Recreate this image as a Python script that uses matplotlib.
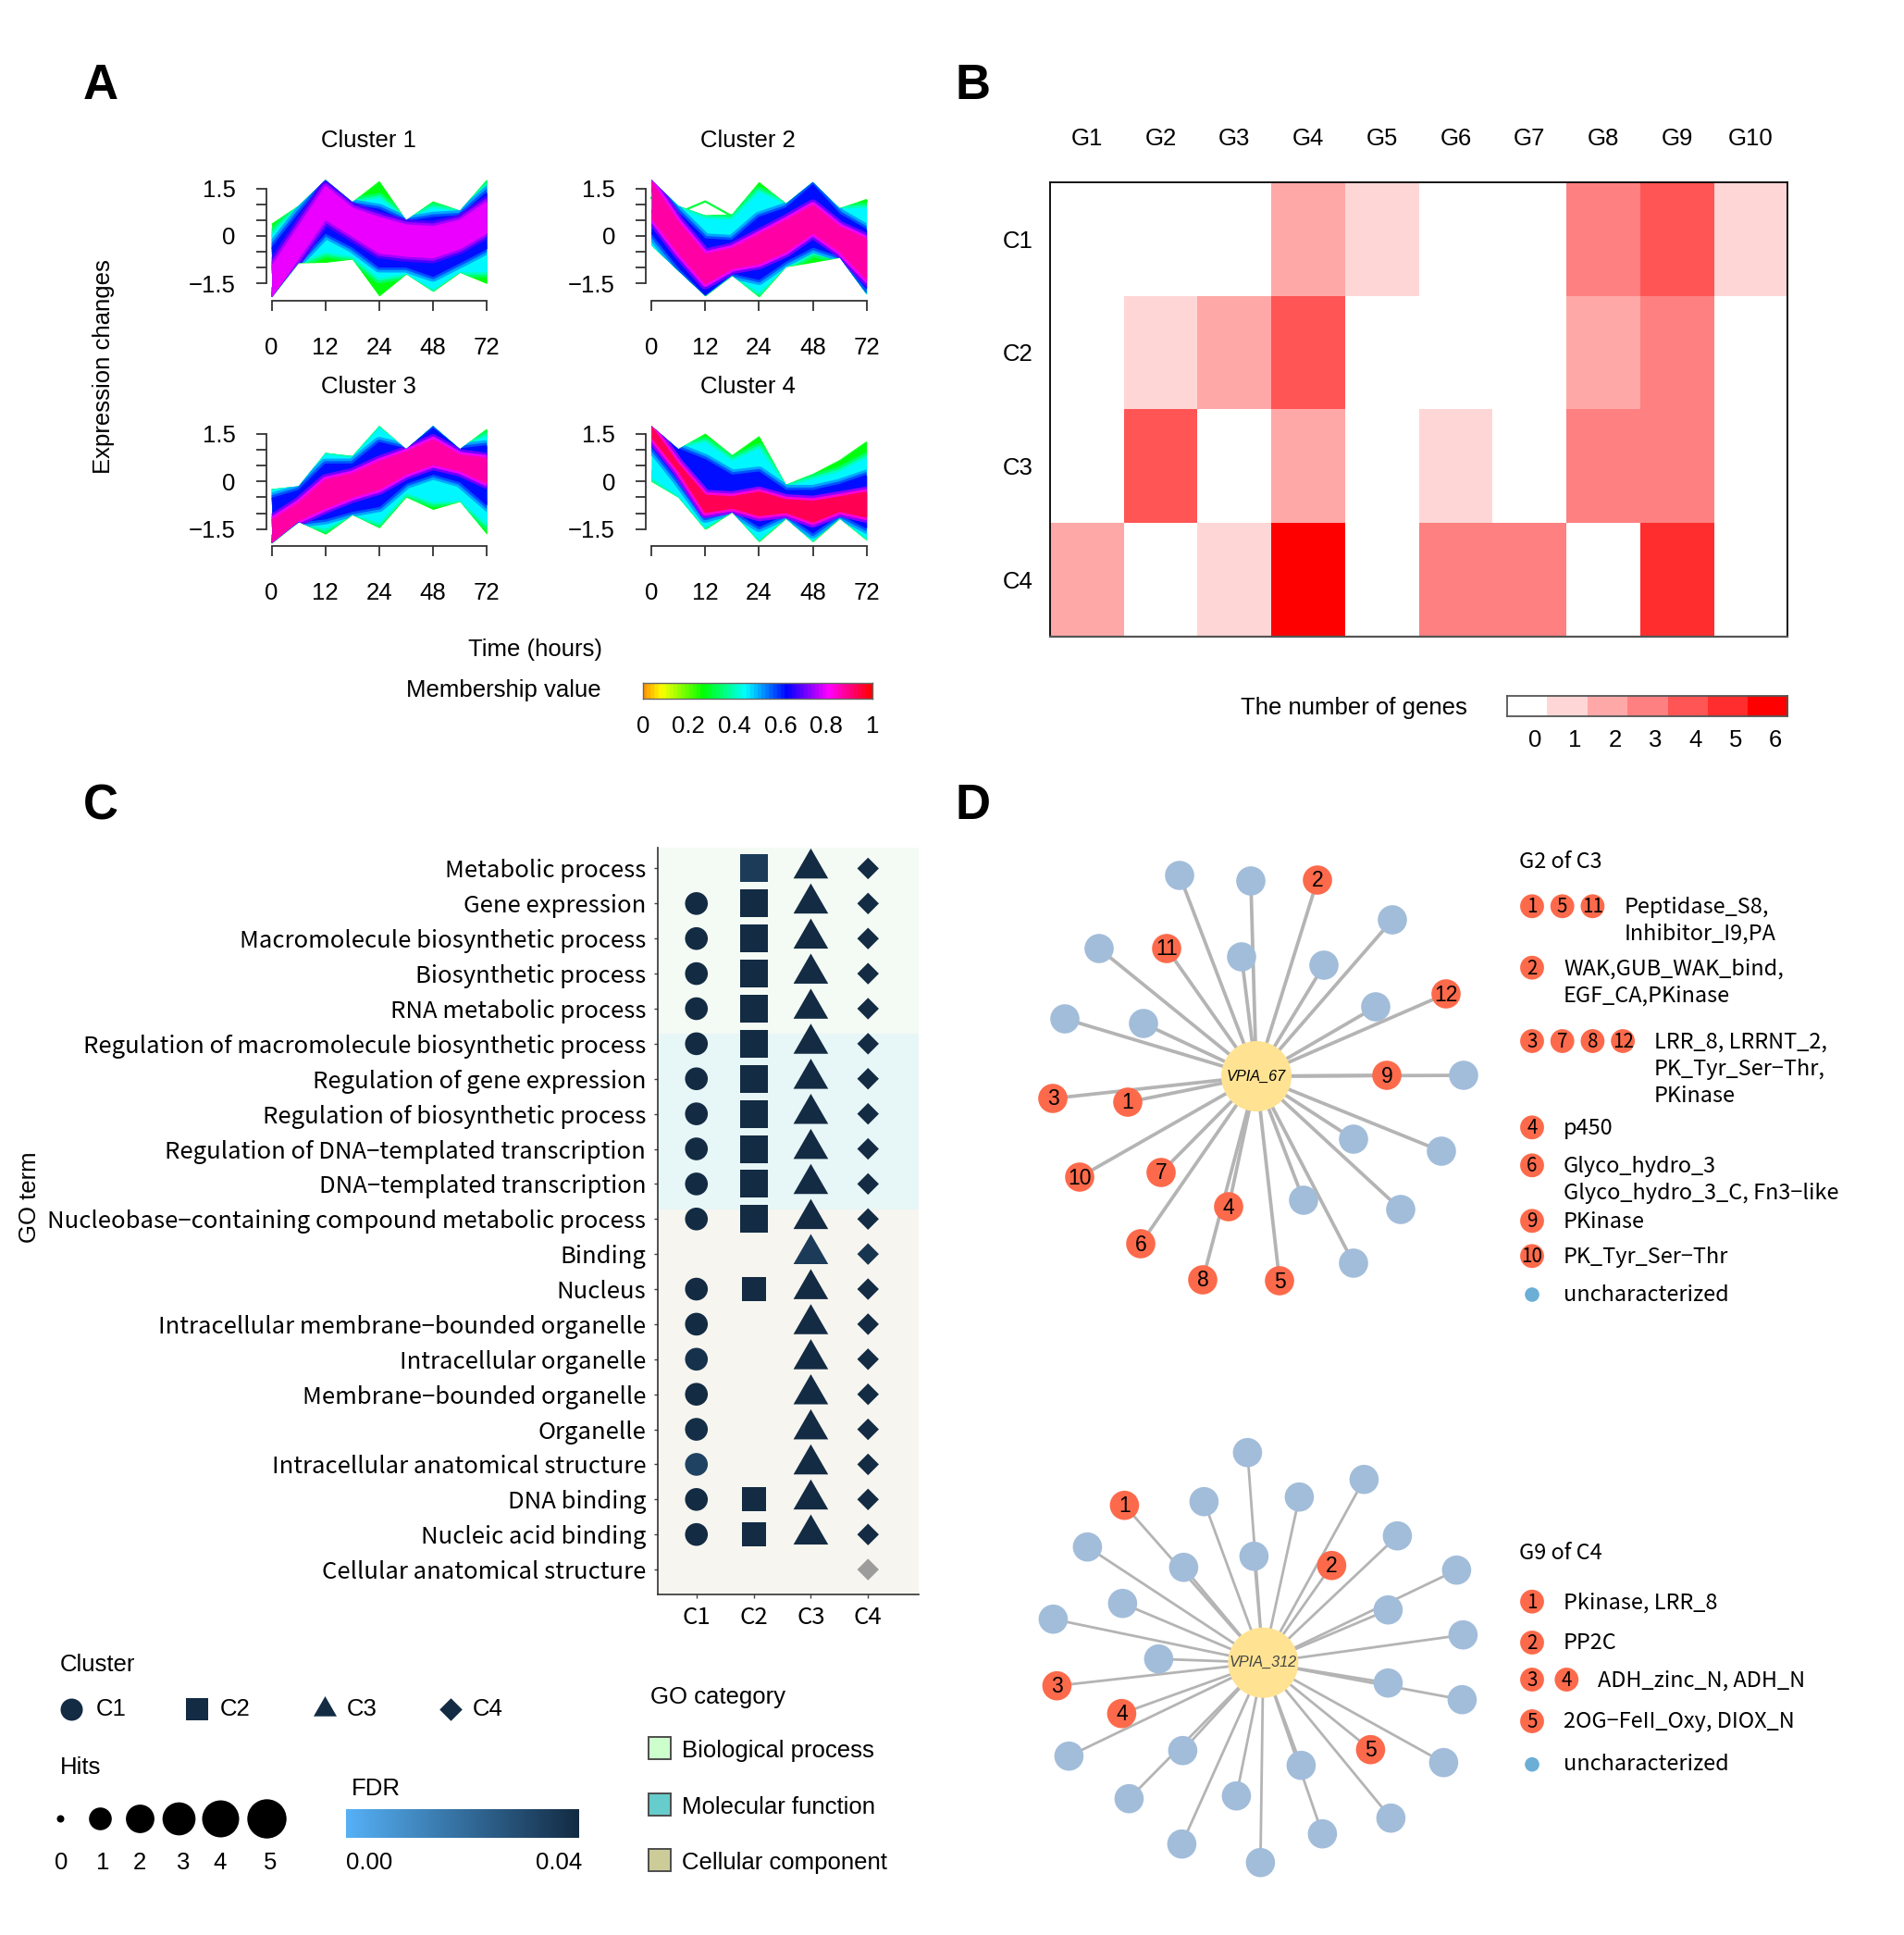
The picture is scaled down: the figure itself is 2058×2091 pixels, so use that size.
import colorsys
import numpy as np
import matplotlib
matplotlib.use("Agg")
import matplotlib.pyplot as plt
from matplotlib import font_manager
from matplotlib.colors import ListedColormap, BoundaryNorm, LinearSegmentedColormap, Normalize
from matplotlib.patches import Circle, Rectangle
from matplotlib.path import Path
from matplotlib.markers import MarkerStyle

_names = {f.name for f in font_manager.fontManager.ttflist}
HAS_NARROW = "Liberation Sans Narrow" in _names
NARROW = "Liberation Sans Narrow" if HAS_NARROW else "Liberation Sans"
KR = ["Noto Sans CJK KR", "DejaVu Sans"]
ARIAL = ["Liberation Sans", "DejaVu Sans"]
plt.rcParams["font.family"] = [NARROW, "DejaVu Sans"]
FS = 22 if HAS_NARROW else 18.5

# ---------------- panel A data (membership bands, 9 time points) ----------------
time_labels = ["0", "12", "24", "48", "72"]
band_levels = [0.27, 0.45, 0.62]          # green, cyan, blue
core_levels = [0.80, 0.88, 0.88, 0.94]    # inner band of each cluster

# upper / lower envelope of each band: [green, cyan, blue, core]
c1_hi = [[0.39, 0.95, 1.77, 1.07, 1.73, 0.50, 1.09, 0.80, 1.77],
         [0.00, 0.87, 1.73, 1.02, 1.17, 0.49, 0.87, 0.73, 1.55],
         [-0.39, 0.68, 1.70, 0.97, 0.83, 0.44, 0.58, 0.63, 1.36],
         [-0.97, 0.29, 1.55, 0.87, 0.58, 0.34, 0.29, 0.49, 1.07]]
c1_lo = [[-1.92, -0.85, -0.83, -0.73, -1.89, -1.20, -1.75, -1.15, -1.50],
         [-1.92, -0.82, -0.49, -0.63, -1.31, -1.17, -1.65, -1.12, -1.12],
         [-1.92, -0.78, 0.10, -0.34, -0.97, -0.97, -1.26, -0.83, -0.39],
         [-1.92, -0.69, 0.53, 0.00, -0.53, -0.63, -0.68, -0.39, 0.10]]
c2_hi = [[1.77, 0.95, 0.65, 0.68, 1.70, 1.02, 1.70, 0.87, 1.17],
         [1.75, 0.87, 0.53, 0.49, 1.36, 0.97, 1.65, 0.83, 0.87],
         [1.75, 0.73, -0.10, -0.15, 0.58, 0.87, 1.60, 0.68, 0.19],
         [1.70, 0.44, -0.58, -0.39, 0.05, 0.49, 0.97, 0.29, -0.10]]
c2_lo = [[-0.30, -1.10, -1.89, -1.25, -1.92, -0.97, -0.83, -0.68, -1.84],
         [-0.29, -1.07, -1.84, -1.21, -1.75, -0.97, -0.49, -0.68, -1.80],
         [0.10, -0.97, -1.84, -1.17, -1.36, -0.78, -0.34, -0.62, -1.65],
         [0.58, -0.53, -1.50, -1.02, -0.87, -0.49, 0.10, -0.49, -1.36]]
c2_outlier = [1.20, 0.73, 1.09, 0.62, 1.60, 1.00, 1.55, 0.85, 1.10]
c3_hi = [[-0.24, -0.15, 0.90, 0.80, 1.75, 1.02, 1.75, 1.02, 1.66],
         [-0.29, -0.15, 0.83, 0.73, 1.66, 1.02, 1.72, 1.02, 1.41],
         [-0.54, -0.29, 0.54, 0.54, 1.22, 1.02, 1.66, 1.02, 1.12],
         [-1.22, -0.68, 0.05, 0.24, 0.63, 0.93, 1.31, 0.83, 0.73]]
c3_lo = [[-1.95, -1.27, -1.66, -1.05, -1.46, -0.49, -0.88, -0.63, -1.66],
         [-1.90, -1.27, -1.46, -1.02, -1.27, -0.34, -0.63, -0.58, -1.31],
         [-1.90, -1.27, -1.17, -0.93, -0.78, -0.05, 0.24, 0.00, -0.73],
         [-1.90, -1.22, -0.83, -0.49, -0.24, 0.24, 0.54, 0.34, -0.05]]
c4_hi = [[1.75, 1.02, 1.51, 0.83, 1.43, -0.10, 0.24, 0.68, 1.27],
         [1.75, 1.02, 1.22, 0.63, 1.02, -0.19, 0.05, 0.29, 0.73],
         [1.75, 1.02, 0.68, 0.19, 0.29, -0.29, -0.29, -0.10, 0.19],
         [1.72, 0.54, -0.44, -0.49, -0.34, -0.58, -0.63, -0.49, -0.34]]
c4_lo = [[0.00, -0.50, -1.51, -0.97, -1.90, -1.17, -1.90, -1.17, -1.85],
         [0.15, -0.44, -1.41, -0.93, -1.80, -1.12, -1.85, -1.12, -1.75],
         [1.12, 0.05, -1.12, -0.88, -1.41, -1.02, -1.61, -1.02, -1.46],
         [1.41, 0.34, -0.97, -0.83, -1.07, -0.97, -1.27, -0.93, -1.12]]

# ---------------- panel B data ----------------
gene_families = ["G1", "G2", "G3", "G4", "G5", "G6", "G7", "G8", "G9", "G10"]
cluster_rows = ["C1", "C2", "C3", "C4"]
gene_counts = [[0, 0, 0, 2, 1, 0, 0, 3, 4, 1],
               [0, 1, 2, 4, 0, 0, 0, 2, 3, 0],
               [0, 4, 0, 2, 0, 1, 0, 3, 3, 0],
               [2, 0, 1, 6, 0, 3, 3, 0, 5, 0]]
count_colors = ["#FFFFFF", "#FFD6D6", "#FFA8A8", "#FF8080", "#FF5555", "#FF2D2D", "#FF0000"]

# ---------------- panel C data ----------------
go_terms = ["Metabolic process", "Gene expression", "Macromolecule biosynthetic process",
            "Biosynthetic process", "RNA metabolic process",
            "Regulation of macromolecule biosynthetic process", "Regulation of gene expression",
            "Regulation of biosynthetic process", "Regulation of DNA\u2212templated transcription",
            "DNA\u2212templated transcription", "Nucleobase\u2212containing compound metabolic process",
            "Binding", "Nucleus", "Intracellular membrane\u2212bounded organelle",
            "Intracellular organelle", "Membrane\u2212bounded organelle", "Organelle",
            "Intracellular anatomical structure", "DNA binding", "Nucleic acid binding",
            "Cellular anatomical structure"]
go_clusters = ["C1", "C2", "C3", "C4"]
nan = np.nan
c1_hits = [0, 1, 1, 1, 1, 1, 1, 1, 1, 1, 1, 0, 1, 1, 1, 1, 1, 1, 1, 1, 0]
c2_hits = [3, 3, 3, 3, 3, 3, 3, 3, 3, 3, 3, 0, 2, 0, 0, 0, 0, 0, 2, 2, 0]
c3_hits = [2, 2, 2, 2, 2, 2, 2, 2, 2, 2, 2, 2, 2, 2, 2, 2, 2, 2, 2, 2, 0]
c4_hits = [2, 2, 2, 2, 2, 2, 2, 2, 2, 2, 2, 2, 2, 2, 2, 2, 2, 2, 2, 2, 2]
c1_fdr = [nan, .04, .04, .04, .04, .04, .04, .04, .04, .04, .04, nan, .04, .04, .038, .04, .039, .033, .04, .04, nan]
c2_fdr = [.035, .04, .04, .04, .04, .04, .04, .04, .04, .04, .04, nan, .04, nan, nan, nan, nan, nan, .04, .04, nan]
c3_fdr = [.04, .04, .04, .04, .04, .04, .04, .04, .04, .04, .04, .035, .04, .04, .04, .04, .04, .04, .04, .04, nan]
c4_fdr = [.04, .04, .04, .04, .04, .04, .04, .04, .04, .04, .04, .037, .04, .04, .04, .04, .04, .04, .04, .04, nan]
go_categories = ["Biological process", "Molecular function", "Cellular component"]
hits_levels = [0, 1, 2, 3, 4, 5]

# ---------------- panel D data (node offsets from the hub) ----------------
net1_blue_dx = [-83, -6, 147, -170, -16, 73, -207, -122, 129, 224, 105, 200, 51, 156, 105]
net1_blue_dy = [-217, -211, -169, -138, -129, -120, -62, -57, -75, -1, 68, 81, 134, 144, 202]
net1_red_id = [1, 2, 3, 4, 5, 6, 7, 8, 9, 10, 11, 12]
net1_red_dx = [-139, 66, -220, -30, 25, -125, -103, -58, 141, -191, -97, 205]
net1_red_dy = [28, -212, 24, 141, 221, 181, 104, 220, -1, 109, -138, -89]
net2_blue_dx = [-17, 109, -64, 39, 145, -190, -10, -86, 209, -152, 135, -227, 216,
                -113, 135, 215, 195, -210, -87, 41, -145, -29, 138, 64, -88, -3]
net2_blue_dy = [-227, -198, -174, -179, -137, -125, -115, -103, -100, -64, -57, -47, -30,
                -4, 22, 40, 108, 101, 95, 111, 147, 144, 168, 185, 196, 216]
net2_red_id = [1, 2, 3, 4, 5]
net2_red_dx = [-150, 74, -223, -153, 116]
net2_red_dy = [-170, -105, 25, 55, 94]

g2c3_groups = [[1, 5, 11], [2], [3, 7, 8, 12], [4], [6], [9], [10]]
g2c3_domains = [["Peptidase_S8,", "Inhibitor_I9,PA"], ["WAK,GUB_WAK_bind,", "EGF_CA,PKinase"],
                ["LRR_8, LRRNT_2,", "PK_Tyr_Ser\u2212Thr,", "PKinase"], ["p450"],
                ["Glyco_hydro_3", "Glyco_hydro_3_C, Fn3\u2212like"], ["PKinase"], ["PK_Tyr_Ser\u2212Thr"]]
g9c4_groups = [[1], [2], [3, 4], [5]]
g9c4_domains = [["Pkinase, LRR_8"], ["PP2C"], ["ADH_zinc_N, ADH_N"], ["2OG\u2212FeII_Oxy, DIOX_N"]]

# ---------------- figure ----------------
W, H = 2058, 2091
fig = plt.figure(figsize=(W / 100, H / 100), dpi=100)
renderer = fig.canvas.get_renderer()


def box(x0, y0, x1, y1, **kw):
    return fig.add_axes([x0 / W, 1 - y1 / H, (x1 - x0) / W, (y1 - y0) / H], **kw)


def fit_size(text, family, target_px, base=18.0):
    t = fig.text(0, 0, text, fontsize=base, family=family)
    w = t.get_window_extent(renderer=renderer).width
    t.remove()
    return base * target_px / w


def memb_color(m):
    return colorsys.hsv_to_rgb((0.1 + 0.9 * m) % 1.0, 1.0, 1.0)


KR_FS = fit_size(max(go_terms, key=len), KR, 605)
D_FS = fit_size("uncharacterized", KR, 178)

# ---- panel A ----
band_hi = [c1_hi, c2_hi, c3_hi, c4_hi]
band_lo = [c1_lo, c2_lo, c3_lo, c4_lo]
t = np.arange(len(c1_hi[0])) / 2.0
ux, uy = 58.15, 34.3
xlo, xhi, ylo, yhi = -0.1, 4.02, -2.04, 1.9
col_x0 = [287.8, 698.3]
row_zero = [255.0, 520.3]
for k in range(4):
    x0 = col_x0[k % 2]
    z = row_zero[k // 2]
    ax = box(x0, z - yhi * uy, x0 + (xhi - xlo) * ux, z - ylo * uy)
    ax.patch.set_alpha(0)
    if k == 1:
        ax.plot(t, c2_outlier, color=memb_color(0.3), lw=1.6, zorder=0.5)
    levels = band_levels + [core_levels[k]]
    outer = None
    for j, m in enumerate(levels):
        c = memb_color(m)
        edges = []
        # soft transition strokes along the band edge (styling only)
        if j > 0:
            prev = levels[j - 1]
            for frac, lw in ((0.35, 9), (0.7, 5)):
                cm = memb_color(prev + (m - prev) * frac)
                edges += ax.plot(t, band_hi[k][j], color=cm, lw=lw, zorder=j + 0.5)
                edges += ax.plot(t, band_lo[k][j], color=cm, lw=lw, zorder=j + 0.5)
        poly = ax.fill_between(t, band_lo[k][j], band_hi[k][j], color=c, lw=0, zorder=j + 1)
        edges += ax.plot(t, band_hi[k][j], color=c, lw=1.2, zorder=j + 1)
        edges += ax.plot(t, band_lo[k][j], color=c, lw=1.2, zorder=j + 1)
        if outer is None:
            outer = poly.get_paths()[0]
        for ln in edges:
            ln.set_clip_path(outer, ax.transData)
    ax.set_xlim(xlo, xhi)
    ax.set_ylim(ylo, yhi)
    ax.set_xticks(range(5))
    ax.set_xticklabels(time_labels)
    ax.set_yticks([-1.5, -1, -0.5, 0, 0.5, 1, 1.5])
    ax.set_yticklabels(["\u22121.5", "", "", "0", "", "", "1.5"])
    for s in ("top", "right"):
        ax.spines[s].set_visible(False)
    ax.spines["left"].set_bounds(-1.5, 1.5)
    ax.spines["bottom"].set_bounds(0, 4)
    for s in ("left", "bottom"):
        ax.spines[s].set_color("#333333")
        ax.spines[s].set_linewidth(1.3)
    ax.tick_params(length=8, width=1.3, color="#333333", labelsize=FS, pad=16)
    ax.tick_params(axis="x", pad=20)
    ax.set_title(f"Cluster {k + 1}", x=0.46, pad=22, fontsize=FS)

memb_cmap = ListedColormap([memb_color(m) for m in np.linspace(0, 1, 60)])
axm = box(694.7, 737.5, 942.7, 754.6)
axm.imshow(np.linspace(0, 1, 240)[None, :], cmap=memb_cmap, aspect="auto", extent=[0, 1, 0, 1])
axm.set_yticks([])
axm.set_xticks([0, 0.2, 0.4, 0.6, 0.8, 1])
axm.set_xticklabels(["0", "0.2", "0.4", "0.6", "0.8", "1"])
axm.tick_params(length=0, labelsize=FS, pad=13)
for s in axm.spines.values():
    s.set_color("#666666")
    s.set_linewidth(1)

# ---- panel B ----
count_cmap = ListedColormap(count_colors)
count_norm = BoundaryNorm(np.arange(-0.5, 7.5, 1), 7)
axB = box(1134.9, 197, 1932.3, 687.5)
axB.pcolormesh(np.array(gene_counts), cmap=count_cmap, norm=count_norm, edgecolors="none")
axB.set_xlim(0, 10)
axB.set_ylim(4, 0)
axB.xaxis.tick_top()
axB.set_xticks(np.arange(10) + 0.5)
axB.set_xticklabels(gene_families)
axB.set_yticks(np.arange(4) + 0.5)
axB.set_yticklabels(cluster_rows)
axB.tick_params(axis="x", length=0, labelsize=FS, pad=25)
axB.tick_params(axis="y", length=0, labelsize=FS, pad=13)
for s in ("top", "left", "right"):
    axB.spines[s].set_color("black")
    axB.spines[s].set_linewidth(1.3)
axB.spines["bottom"].set_color("#555555")
axB.spines["bottom"].set_linewidth(1.6)

axBl = box(1628.5, 752, 1932, 774)
axBl.imshow(np.arange(7)[None, :], cmap=count_cmap, norm=count_norm, aspect="auto", extent=[0, 7, 0, 1])
axBl.set_yticks([])
axBl.set_xticks(np.arange(7) + 0.7)
axBl.set_xticklabels([str(v) for v in range(7)])
axBl.tick_params(length=0, labelsize=FS, pad=10)
for s in axBl.spines.values():
    s.set_color("#555555")
    s.set_linewidth(1.3)

# ---- panel C ----
fdr_cmap = LinearSegmentedColormap.from_list("fdr", ["#56B1F7", "#132B43"])
fdr_cmap.set_bad("#9C9C9C")
fdr_norm = Normalize(0, 0.04)
tri = MarkerStyle(Path([(0, 1), (-0.866, -0.5), (0.866, -0.5), (0, 1)],
                       [Path.MOVETO, Path.LINETO, Path.LINETO, Path.CLOSEPOLY]))
hits_diam_px = [8, 24.6, 30.8, 35.7, 40, 42.4]
shape_scale = [1.0, 0.84, 1.22 / 0.866, 0.76 / 1.414]   # drawn width -> markersize
cluster_markers = ["o", "s", tri, "D"]

axC = box(710.7, 916.5, 993.3, 1722.6)
axC.set_xlim(0.32, 4.89)
axC.set_ylim(21.70, 0.42)
axC.axhspan(0.42, 5.72, color="#F4FBF4", lw=0, zorder=0)
axC.axhspan(5.72, 10.72, color="#E7F6F6", lw=0, zorder=0)
axC.axhspan(10.72, 21.70, color="#F6F5EF", lw=0, zorder=0)
rows = np.arange(1, len(go_terms) + 1)
for ci, (hits, fdr) in enumerate([(c1_hits, c1_fdr), (c2_hits, c2_fdr), (c3_hits, c3_fdr), (c4_hits, c4_fdr)]):
    hits = np.array(hits)
    fdr = np.array(fdr, dtype=float)
    keep = hits > 0
    ms = np.array([hits_diam_px[h] for h in hits[keep]]) * shape_scale[ci] * 0.72
    axC.scatter(np.full(keep.sum(), ci + 1), rows[keep], s=ms ** 2, c=fdr[keep], cmap=fdr_cmap,
                norm=fdr_norm, marker=cluster_markers[ci], linewidths=0, plotnonfinite=True, zorder=3)
axC.set_yticks(rows)
axC.set_yticklabels(go_terms, family=KR, fontsize=KR_FS)
axC.set_xticks([1, 2, 3, 4])
axC.set_xticklabels(go_clusters, family=KR, fontsize=KR_FS)
axC.tick_params(length=3, width=1, color="#444444", pad=6)
for s in ("top", "right"):
    axC.spines[s].set_visible(False)
for s in ("left", "bottom"):
    axC.spines[s].set_color("#333333")
    axC.spines[s].set_linewidth(1.2)

axF = box(374, 1954.7, 626, 1986)
axF.imshow(np.linspace(0, 1, 256)[None, :], cmap=fdr_cmap, aspect="auto", extent=[0, 1, 0, 1])
axF.set_axis_off()

# ---- overlay: labels, legends, networks ----
ov = box(0, 0, W, H, zorder=10)
ov.set_xlim(0, W)
ov.set_ylim(H, 0)
ov.set_axis_off()
ov.patch.set_visible(False)

for lab, (x, y) in zip("ABCD", [(109, 93), (1052, 93), (109, 871), (1052, 871)]):
    ov.text(x, y, lab, fontsize=38, fontweight="bold", family=ARIAL, ha="center", va="center")

ov.text(112, 396, "Expression changes", rotation=90, fontsize=FS, ha="center", va="center")
ov.text(579, 702, "Time (hours)", fontsize=FS, ha="center", va="center")
ov.text(650, 746, "Membership value", fontsize=FS, ha="right", va="center")
ov.text(1586, 765, "The number of genes", fontsize=FS, ha="right", va="center")
ov.text(32, 1294, "GO term", rotation=90, fontsize=FS, ha="center", va="center")

# cluster shape legend
ov.text(64.6, 1799, "Cluster", fontsize=FS, ha="left", va="center")
leg_shape_x = [77, 213.4, 350.6, 487]
leg_text_x = [103.3, 238, 375, 510.5]
leg_ms = [24 * 0.72, 24 * 0.72, 25 / 0.866 * 0.72, 24.6 / 1.414 * 0.72]
for i in range(4):
    ov.scatter([leg_shape_x[i]], [1846.5], s=leg_ms[i] ** 2, marker=cluster_markers[i],
               color="#132B43", linewidths=0)
    ov.text(leg_text_x[i], 1847, go_clusters[i], fontsize=FS, ha="left", va="center")

# hits legend
ov.text(64.6, 1910, "Hits", fontsize=FS, ha="left", va="center")
hit_x = [64.6, 107.7, 150.7, 193, 238, 287.8]
hit_lab_x = [66, 110.7, 150.7, 198, 238, 292]
for i, h in enumerate(hits_levels):
    ov.scatter([hit_x[i]], [1964.6], s=(hits_diam_px[h] * 0.72) ** 2, color="black", linewidths=0)
    ov.text(hit_lab_x[i], 2013, str(h), fontsize=FS, ha="center", va="center")

ov.text(380, 1933, "FDR", fontsize=FS, ha="left", va="center")
ov.text(374, 2013, "0.00", fontsize=FS, ha="left", va="center")
ov.text(629, 2013, "0.04", fontsize=FS, ha="right", va="center")

ov.text(703, 1834, "GO category", fontsize=FS, ha="left", va="center")
cat_colors = ["#CCFFCC", "#66CCCC", "#CCCC99"]
cat_y = [1889, 1949.5, 2010]
for name, c, y in zip(go_categories, cat_colors, cat_y):
    ov.add_patch(Rectangle((701, y - 12), 23.5, 24, fc=c, ec="#4D4D4D", lw=1.4))
    ov.text(737, y + 3, name, fontsize=FS, ha="left", va="center")

# networks
RED, BLUE_NODE, HUB, EDGE = "#FC6A4B", "#A2BDDA", "#FFE393", "#B4B4B4"


def draw_network(hub, label, label_color, blue_dx, blue_dy, red_id, red_dx, red_dy, lw):
    hx, hy = hub
    for dx, dy in zip(list(blue_dx) + list(red_dx), list(blue_dy) + list(red_dy)):
        ov.plot([hx, hx + dx], [hy, hy + dy], color=EDGE, lw=lw, zorder=1, solid_capstyle="butt")
    for dx, dy in zip(blue_dx, blue_dy):
        ov.add_patch(Circle((hx + dx, hy + dy), 15.8, fc=BLUE_NODE, ec="none", zorder=2))
    for i, dx, dy in zip(red_id, red_dx, red_dy):
        ov.add_patch(Circle((hx + dx, hy + dy), 15.8, fc=RED, ec="none", zorder=2))
        ov.text(hx + dx, hy + dy + 1, str(i), fontsize=16.5, family=ARIAL, ha="center", va="center", zorder=3)
    ov.add_patch(Circle((hx, hy), 38, fc=HUB, ec="none", zorder=2))
    ov.text(hx, hy, label, style="italic", fontsize=11.7, family=ARIAL, color=label_color,
            ha="center", va="center", zorder=3)


draw_network((1358, 1163), "VPIA_67", "black", net1_blue_dx, net1_blue_dy,
             net1_red_id, net1_red_dx, net1_red_dy, 2.7)
draw_network((1365.4, 1796.7), "VPIA_312", "#444444", net2_blue_dx, net2_blue_dy,
             net2_red_id, net2_red_dx, net2_red_dy, 2.0)


def draw_domain_legend(title, title_y, groups, domains, rows_y, step, unchar_y):
    ov.text(1641.7, title_y, title, fontsize=D_FS, family=KR, ha="left", va="center")
    for grp, lines, y in zip(groups, domains, rows_y):
        for j, n in enumerate(grp):
            cx = 1656 + j * step
            ov.add_patch(Circle((cx, y), 12.9, fc=RED, ec="none"))
            ov.text(cx, y + 1, str(n), fontsize=D_FS * 0.88, family=KR, ha="center", va="center")
        tx = 1656 + (len(grp) - 1) * step + 34
        for li, line in enumerate(lines):
            ov.text(tx, y + 1 + li * 29.3, line, fontsize=D_FS, family=KR, ha="left", va="center")
    ov.add_patch(Circle((1656, unchar_y), 7.8, fc="#6BAED6", ec="none"))
    ov.text(1690, unchar_y, "uncharacterized", fontsize=D_FS, family=KR, ha="left", va="center")


draw_domain_legend("G2 of C3", 931.7, g2c3_groups, g2c3_domains,
                   [979.3, 1045.7, 1125, 1218.3, 1259.3, 1319.3, 1357.3], 32.7, 1399)
draw_domain_legend("G9 of C4", 1678.3, g9c4_groups, g9c4_domains,
                   [1730.7, 1775, 1815, 1860], 37.3, 1906.7)

fig.savefig("out.png", dpi=100)
